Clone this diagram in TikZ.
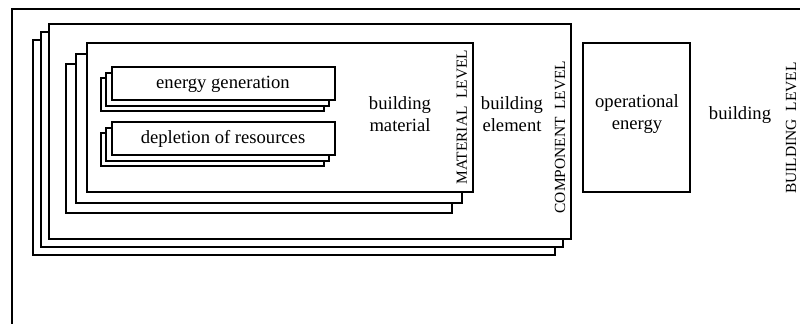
\documentclass[tikz,border=0pt]{standalone}
\usepackage{fontspec}
\setmainfont{Liberation Serif}
\tikzset{
    sheet/.style={draw, fill=white, line width=0.9pt},
    boxtext/.style={align=center, font=\fontsize{10.6}{12.5}\selectfont},
    levelname/.style={rotate=90, font=\fontsize{8.8}{10}\selectfont},
}
\begin{document}
\begin{tikzpicture}[x=0.02cm, y=-0.02cm]
    \useasboundingbox (0,0) rectangle (800,324);
    \clip (0,0) rectangle (800,324);

    % Draw the outer rectangle (runs off the page)
    \draw[sheet] (12,9) rectangle (830,340);

    % Component level: three stacked sheets
    \foreach \d in {16,8,0}
        \draw[sheet] (49-\d,24+\d) rectangle (571-\d,239+\d);

    % Material level
    \foreach \d in {21,11,0}
        \draw[sheet] (87-\d,43+\d) rectangle (473-\d,192+\d);

    % Energy generation and depletion of resources
    \foreach \d in {11,6,0} {
        \draw[sheet] (112-\d,67+\d) rectangle (335-\d,100+\d);
        \draw[sheet] (112-\d,122+\d) rectangle (335-\d,155+\d);
    }

    % Operational energy
    \draw[sheet] (583,43) rectangle (690,192);

    % Texts
    \node[boxtext] (gen) at (223,84) {energy generation};
    \node[boxtext] (dep) at (223,139) {depletion of resources};
    \node[boxtext] (mat) at (400,114) {building\\material};
    \node[levelname] (matlvl) at (462,117) {MATERIAL\ \ LEVEL};
    \node[boxtext] (elem) at (512,114) {building\\element};
    \node[levelname] (complvl) at (560,137) {COMPONENT\ \ LEVEL};
    \node[boxtext] (oper) at (637,114) {operational\\energy};
    \node[boxtext] (bldg) at (740,115) {building};
    \node[levelname] (bldglvl) at (791,128) {BUILDING\ \ LEVEL};
\end{tikzpicture}
\end{document}
